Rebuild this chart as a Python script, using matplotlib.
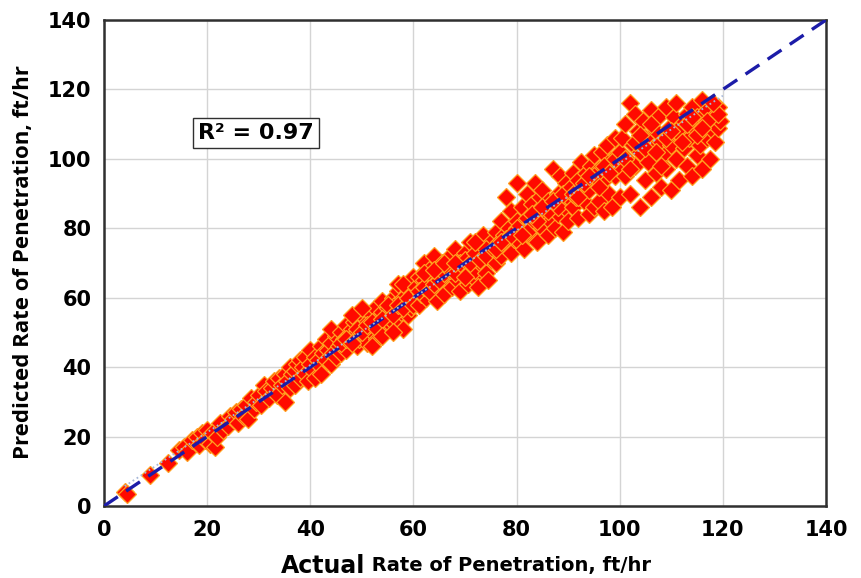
import matplotlib
matplotlib.use("Agg")
import matplotlib.pyplot as plt
from matplotlib import font_manager as fm

# ---------------- data ----------------
xa = [4, 4.5, 9, 12.5, 14.5, 15.5, 16, 17, 18, 18.5, 19, 19.5, 20, 20.5, 21, 21.5, 22, 22.5, 23, 24,
      24.5, 25, 25.5, 26, 26.5, 27, 27.5, 28, 28.5, 29, 29.5]
ya = [4, 3.5, 9, 12.5, 16, 17, 15.5, 19, 20, 17.5, 21, 19, 22, 18, 21, 17, 20, 24, 22, 23,
      26, 25, 27, 24, 28, 26, 29, 25, 31, 28, 30]

xb = [30, 30.5, 31, 31.5, 32, 32.5, 33, 33.5, 34, 34.5, 35, 35, 35.5, 36, 36, 36.5, 37, 37, 37.5, 38,
      38, 38.5, 39, 39, 39.5, 40, 40, 40.5, 41, 41, 41.5, 42, 42, 42.5, 43, 43, 43.5, 44, 44, 44.5, 45, 45,
      42, 44]
yb = [32, 29, 35, 33, 31, 34, 36, 32, 37, 35, 30, 38, 36, 34, 40, 38, 35, 39, 41, 37,
      42, 40, 38, 43, 36, 41, 45, 39, 43, 37, 42, 46, 40, 44, 42, 48, 45, 41, 47, 44, 49, 43,
      38, 51]

xc = [45.5, 46, 46, 46.5, 47, 47, 47.5, 48, 48, 48.5, 49, 49, 49.5, 50, 50, 50.5, 51, 51, 51.5, 52,
      52, 52.5, 53, 53, 53.5, 54, 54, 54.5, 55, 55, 55.5, 56, 56, 56.5, 57, 57, 57.5, 58, 58, 58.5,
      59, 59, 59.5, 60, 60,
      46, 47, 48, 49, 50, 51, 52, 53, 54, 55, 56, 57, 58, 59, 60,
      48, 50, 52, 54, 56, 57, 58]
yc = [46, 44, 50, 48, 45, 52, 49, 47, 51, 53, 46, 50, 48, 52, 55, 49, 47, 53, 51, 55,
      50, 57, 48, 54, 52, 56, 59, 53, 51, 57, 55, 60, 53, 58, 54, 62, 56, 51, 60, 58,
      55, 63, 57, 61, 66,
      47, 48, 47, 51, 50, 52, 53, 51, 54, 58, 55, 58, 57, 60, 58,
      55, 57, 46, 49, 50, 64, 64]

xd = [60.5, 61, 61, 61.5, 62, 62, 62.5, 63, 63, 63.5, 64, 64, 64.5, 65, 65, 65.5, 66, 66, 66.5, 67,
      67, 67.5, 68, 68, 68.5, 69, 69, 69.5, 70, 70, 70.5, 71, 71, 71.5, 72, 72, 72.5, 73, 73, 73.5,
      74, 74, 74.5, 75, 75,
      61, 62, 63, 64, 65, 66, 67, 68, 69, 70, 71, 72, 73, 74, 62, 64, 66, 68, 70, 72, 74]
yd = [63, 58, 66, 61, 65, 70, 60, 64, 68, 62, 66, 72, 59, 67, 63, 70, 64, 61, 68, 66,
      72, 63, 69, 74, 65, 71, 62, 67, 73, 69, 64, 70, 76, 66, 72, 68, 63, 74, 70, 78,
      67, 73, 65, 76, 71,
      62, 63, 62, 64, 65, 67, 68, 67, 70, 71, 70, 73, 71, 74, 67, 68, 70, 70, 66, 76, 72]

xe = [75.5, 76, 76, 76.5, 77, 77, 77.5, 78, 78, 78.5, 79, 79, 79.5, 80, 80, 80.5, 81, 81, 81.5, 82,
      82, 82.5, 83, 83, 83.5, 84, 84, 84.5, 85, 85, 85.5, 86, 86, 86.5, 87, 87, 87.5, 88, 88, 88.5,
      89, 89, 89.5, 90, 90,
      76, 78, 80, 82, 84, 86, 88, 90, 77, 79, 81, 83, 85, 87, 89]
ye = [74, 70, 79, 76, 72, 82, 78, 75, 89, 80, 73, 85, 77, 82, 93, 76, 79, 86, 74, 83,
      90, 78, 87, 81, 93, 76, 85, 89, 80, 91, 84, 78, 88, 82, 97, 86, 80, 90, 84, 95,
      79, 88, 93, 85, 82,
      74, 77, 80, 79, 82, 85, 86, 89, 76, 78, 78, 84, 86, 88, 90]

xf = [90.5, 91, 91, 91.5, 92, 92, 92.5, 93, 93, 93.5, 94, 94, 94.5, 95, 95, 95.5, 96, 96, 96.5, 97,
      97, 97.5, 98, 98, 98.5, 99, 99, 99.5, 100, 100,
      91, 93, 95, 97, 99, 92, 94, 96, 98, 100]
yf = [92, 86, 96, 89, 83, 94, 99, 88, 92, 96, 84, 91, 98, 86, 101, 93, 88, 97, 102, 85,
      94, 104, 90, 99, 86, 95, 106, 101, 89, 97,
      90, 93, 95, 98, 100, 89, 95, 92, 96, 102]

xg = [100.5, 101, 101, 101.5, 102, 102, 102.5, 103, 103, 103.5, 104, 104, 104.5, 105, 105, 105.5,
      106, 106, 106.5, 107, 107, 107.5, 108, 108, 108.5, 109, 109, 109.5, 110, 110, 110.5, 111, 111,
      111.5, 112, 112, 112.5, 113, 113, 113.5, 114, 114, 114.5, 115, 115, 115.5, 116, 116, 116.5,
      117, 117, 117.5, 118, 118, 118.5, 119, 119, 119.5,
      101, 103, 105, 107, 109, 111, 113, 115, 117, 119, 102, 104, 106, 108, 110, 112, 114, 116, 118]
yg = [106, 95, 110, 100, 116, 90, 104, 113, 98, 108, 86, 102, 111, 94, 106, 99,
      114, 89, 103, 108, 96, 112, 92, 105, 101, 115, 97, 109, 91, 104, 112, 100, 116,
      94, 107, 110, 103, 98, 113, 106, 95, 115, 109, 101, 112, 104, 117, 97, 110,
      106, 114, 100, 108, 112, 105, 115, 109, 111,
      100, 105, 103, 102, 106, 108, 110, 107, 111, 113, 97, 107, 110, 98, 108, 105, 112, 109, 116]

actual = xa + xb + xc + xd + xe + xf + xg
predicted = ya + yb + yc + yd + ye + yf + yg

ideal_x = [0, 140]
ideal_y = [0, 140]
trend_x = [4, 120]
trend_y = [5.7, 118.2]

ticks = [0, 20, 40, 60, 80, 100, 120, 140]
r2_label = "R\u00b2 = 0.97"

# ---------------- figure ----------------
fig = plt.figure(figsize=(8.61, 5.78), dpi=100)
ax = fig.add_axes([104 / 861, 1 - 506 / 578, (826 - 104) / 861, (506 - 20) / 578])

ax.plot(actual, predicted, linestyle="none", marker="D", markersize=9.5,
        markerfacecolor="#ff0a00", markeredgecolor="#ffa020", markeredgewidth=0.9, zorder=3)
ax.plot(ideal_x, ideal_y, linestyle=(0, (5, 3)), color="#1c1ca8", linewidth=2.4, zorder=4)
ax.plot(trend_x, trend_y, linestyle=":", color="#a8b8d8", linewidth=1.3, zorder=5)

ax.set_xlim(0, 140)
ax.set_ylim(0, 140)
ax.set_xticks(ticks)
ax.set_yticks(ticks)
ax.grid(True, color="#d4d4d4", linewidth=1.0, zorder=0)
ax.set_axisbelow(True)
for s in ax.spines.values():
    s.set_linewidth(1.8)
    s.set_color("#303030")
ax.tick_params(length=0, labelsize=15)
ax.tick_params(axis="x", pad=10)
ax.tick_params(axis="y", pad=9)
for lab in ax.get_xticklabels() + ax.get_yticklabels():
    lab.set_fontweight("bold")
    lab.set_family("DejaVu Sans")

ax.text(29.5, 107.5, r2_label, fontsize=16, fontweight="bold", ha="center", va="center",
        family="DejaVu Sans",
        bbox=dict(boxstyle="square,pad=0.22", facecolor="white", edgecolor="#303030", linewidth=1.0),
        zorder=6)

# axis labels
names = {f.name for f in fm.fontManager.ttflist}
xfam = "Liberation Sans Narrow" if "Liberation Sans Narrow" in names else "DejaVu Sans"
xsize = 18 if xfam != "DejaVu Sans" else 16
t1 = fig.text(281 / 861, 1 - 566 / 578, "Actual", fontsize=xsize + 1, fontweight="bold",
              family=xfam, ha="left", va="center")
ax.annotate(" Rate of Penetration, ft/hr", xy=(1, 0.5), xycoords=t1, xytext=(0, 0),
            textcoords="offset points", fontsize=xsize - 2, fontweight="bold", family=xfam,
            ha="left", va="center", annotation_clip=False)

fig.text(24 / 861, 1 - 262 / 578, "Predicted Rate of Penetration, ft/hr", rotation=90,
         fontsize=16, fontweight="bold", family="Open Sans", ha="center", va="center")

fig.savefig("out.png", dpi=100)
